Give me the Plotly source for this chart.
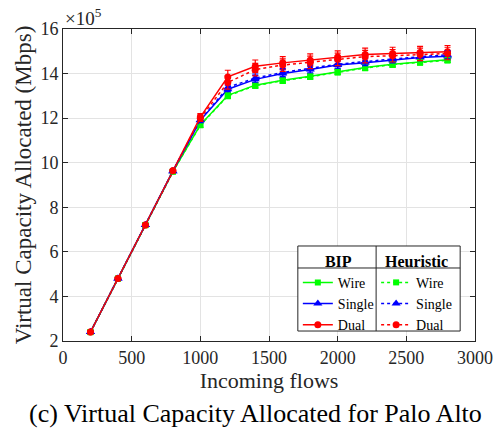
import plotly.graph_objects as go

# Incoming flows and allocated virtual capacity (units of 1e5 Mbps)
flows = [200, 400, 600, 800, 1000, 1200, 1400, 1600, 1800, 2000, 2200, 2400, 2600, 2800]

bip_wire = [2.40, 4.80, 7.20, 9.60, 11.70, 13.02, 13.48, 13.70, 13.88, 14.08, 14.27, 14.42, 14.52, 14.62]
bip_single = [2.40, 4.80, 7.20, 9.62, 11.90, 13.30, 13.74, 14.00, 14.18, 14.38, 14.48, 14.60, 14.72, 14.78]
bip_dual = [2.40, 4.80, 7.20, 9.64, 12.05, 13.85, 14.33, 14.48, 14.60, 14.74, 14.86, 14.90, 14.94, 14.98]

heu_wire = [2.40, 4.80, 7.20, 9.60, 11.68, 13.00, 13.46, 13.68, 13.86, 14.06, 14.25, 14.40, 14.50, 14.60]
heu_single = [2.40, 4.80, 7.20, 9.62, 11.92, 13.38, 13.80, 14.05, 14.24, 14.42, 14.54, 14.66, 14.76, 14.84]
heu_dual = [2.40, 4.80, 7.20, 9.64, 12.00, 13.60, 14.18, 14.38, 14.50, 14.64, 14.76, 14.80, 14.86, 14.90]

err_wire = [0.05, 0.05, 0.05, 0.05, 0.10, 0.12, 0.12, 0.12, 0.12, 0.12, 0.12, 0.12, 0.12, 0.12]
err_single = [0.05, 0.05, 0.05, 0.05, 0.12, 0.18, 0.18, 0.18, 0.18, 0.18, 0.18, 0.18, 0.18, 0.18]
err_dual = [0.05, 0.05, 0.05, 0.05, 0.15, 0.30, 0.28, 0.28, 0.28, 0.28, 0.28, 0.28, 0.28, 0.28]

x_ticks = [0, 500, 1000, 1500, 2000, 2500, 3000]
y_ticks = [2, 4, 6, 8, 10, 12, 14, 16]

FONT = "Liberation Serif, Times New Roman, serif"
INK = "#262626"
GREEN, BLUE, RED = "#00ff00", "#0000ff", "#ff0000"

series = [
    ("Wire", bip_wire, err_wire, GREEN, "square", 6, "solid", "legend"),
    ("Single", bip_single, err_single, BLUE, "triangle-up", 8, "solid", "legend"),
    ("Dual", bip_dual, err_dual, RED, "circle", 7, "solid", "legend"),
    ("Wire", heu_wire, err_wire, GREEN, "square", 6, "dot", "legend2"),
    ("Single", heu_single, err_single, BLUE, "triangle-up", 8, "dot", "legend2"),
    ("Dual", heu_dual, err_dual, RED, "circle", 7, "dot", "legend2"),
]

fig = go.Figure()
for name, ys, err, color, sym, size, dash, leg in series:
    fig.add_trace(go.Scatter(
        x=flows, y=ys, name=name, mode="lines+markers",
        line=dict(color=color, width=1.5, dash=dash),
        marker=dict(symbol=sym, size=size, color=color),
        error_y=dict(type="data", array=err, color=color, thickness=1.2, width=3),
        legend=leg,
    ))

axis_common = dict(
    showline=True, linecolor=INK, linewidth=1, mirror="ticks",
    ticks="inside", ticklen=5, tickcolor=INK,
    showgrid=True, gridcolor="#e3e3e3", gridwidth=1, zeroline=False,
    tickfont=dict(family=FONT, size=18, color=INK),
    ticklabeloverflow="allow", automargin=False,
)

# Legend table geometry (paper coordinates)
TAB_L, TAB_M, TAB_R = 0.570, 0.760, 0.964
TAB_T, TAB_H, TAB_B = 0.3045, 0.234, 0.032

legend_common = dict(
    yanchor="top", xanchor="left", y=TAB_T,
    bgcolor="rgba(0,0,0,0)", borderwidth=0,
    font=dict(family=FONT, size=14, color="black"),
    tracegroupgap=0, itemwidth=30,
)

fig.update_layout(
    width=493, height=438,
    margin=dict(l=63, r=18, t=29, b=97),
    paper_bgcolor="white", plot_bgcolor="white",
    font=dict(family=FONT, color=INK),
    xaxis=dict(range=[0, 3000], tickvals=x_ticks,
               title=dict(text="Incoming flows", font=dict(family=FONT, size=22, color=INK), standoff=4),
               **axis_common),
    yaxis=dict(range=[2, 16], tickvals=y_ticks,
               title=dict(text="Virtual Capacity Allocated (Mbps)", font=dict(family=FONT, size=23, color=INK), standoff=2),
               **axis_common),
    legend=dict(
        title=dict(text="<b>BIP</b>", side="top center", font=dict(family=FONT, size=16, color="black")),
        x=TAB_L, **legend_common,
    ),
    legend2=dict(
        title=dict(text="<b>Heuristic</b>", side="top center", font=dict(family=FONT, size=16, color="black")),
        x=TAB_M, **legend_common,
    ),
    showlegend=True,
)

# Legend table: white panel, outer frame, header rule and column divider
fig.add_shape(type="rect", xref="paper", yref="paper", layer="above",
              x0=TAB_L, x1=TAB_R, y0=TAB_B, y1=TAB_T,
              fillcolor="white", line=dict(color=INK, width=1))
fig.add_shape(type="line", xref="paper", yref="paper", layer="above",
              x0=TAB_L, x1=TAB_R, y0=TAB_H, y1=TAB_H,
              line=dict(color=INK, width=1))
fig.add_shape(type="line", xref="paper", yref="paper", layer="above",
              x0=TAB_M, x1=TAB_M, y0=TAB_B, y1=TAB_T,
              line=dict(color=INK, width=1))

# Axis exponent marker
fig.add_annotation(text="×10<sup>5</sup>", xref="paper", yref="paper",
                   x=0.0, y=1.0, xanchor="left", yanchor="bottom", yshift=-2,
                   showarrow=False, font=dict(family=FONT, size=19, color=INK))

# Caption below the chart
fig.add_annotation(text="(c) Virtual Capacity Allocated for Palo Alto", xref="paper", yref="paper",
                   x=0.5, y=-0.178, xanchor="center", yanchor="top",
                   xshift=-14, showarrow=False,
                   font=dict(family=FONT, size=26, color="black"))

fig.write_html("out.html")
